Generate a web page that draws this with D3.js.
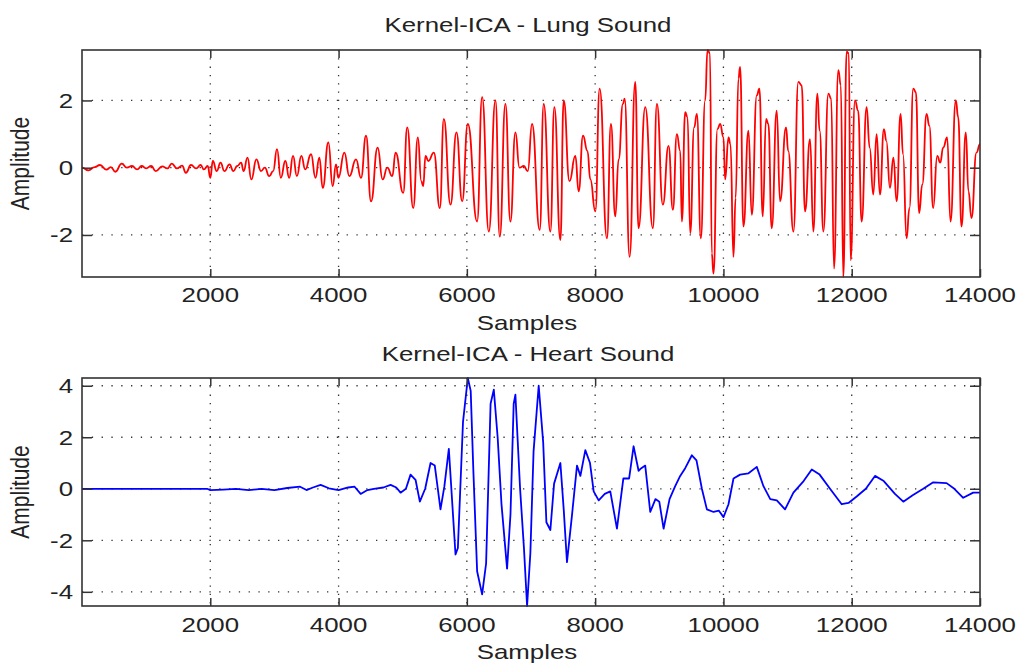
<!DOCTYPE html>
<html>
<head>
<meta charset="utf-8">
<script src="https://cdn.jsdelivr.net/npm/d3@7"></script>
<style>
    body { margin: 0; background: #fff; }
    text { font-family: "Liberation Sans", Arial, sans-serif; fill: #222; }
</style>
</head>
<body>
<svg id="chart" width="1021" height="666"></svg>
<script>
// x ticks shared by both panels
const xTicks = [2000, 4000, 6000, 8000, 10000, 12000, 14000];
const lungYTicks = [-2, 0, 2];
const heartYTicks = [-4, -2, 0, 2, 4];

// Lung sound (sample, amplitude)
const lungSamples = [0, 100, 200, 280, 380, 450, 520, 620, 700, 780, 860, 930, 1000, 1080, 1150, 1250, 1330, 1400, 1480, 1560,
    1620, 1700, 1780, 1850, 1900, 1960, 2000, 2040, 2100, 2160, 2220, 2300, 2360, 2420, 2480, 2520, 2580, 2640, 2720, 2790,
    2850, 2920, 2980, 3040, 3100, 3170, 3230, 3290, 3350, 3420, 3480, 3571, 3640, 3700, 3753, 3841, 3908, 3960, 3997, 4090,
    4168, 4272, 4350, 4428, 4506, 4609, 4687, 4760, 4837, 4889, 5008, 5070, 5164, 5236, 5290, 5319, 5356, 5400, 5485, 5579,
    5641, 5745, 5838, 5927, 6015, 6160, 6238, 6342, 6446, 6513, 6601, 6679, 6757, 6820, 6887, 6950, 7016, 7136, 7198, 7302,
    7364, 7458, 7510, 7600, 7691, 7743, 7811, 7880, 7925, 8003, 8070, 8184, 8246, 8314, 8366, 8433, 8460, 8537, 8625, 8677,
    8781, 8900, 8963, 9056, 9144, 9212, 9274, 9326, 9352, 9404, 9440, 9482, 9544, 9586, 9648, 9715, 9752, 9790, 9819, 9845,
    9907, 9949, 10000, 10027, 10079, 10110, 10156, 10190, 10234, 10260, 10312, 10390, 10442, 10520, 10561, 10613, 10665, 10700, 10753, 10831,
    10883, 10976, 11010, 11091, 11168, 11220, 11272, 11350, 11402, 11464, 11500, 11558, 11636, 11680, 11724, 11791, 11830, 11869, 11921, 11955,
    11983, 12051, 12100, 12155, 12232, 12280, 12336, 12388, 12440, 12502, 12540, 12596, 12650, 12700, 12762, 12800, 12855, 12900, 12959, 13000,
    13052, 13100, 13167, 13210, 13270, 13333, 13380, 13426, 13488, 13540, 13623, 13660, 13712, 13779, 13820, 13867, 13945, 14000];
const lungAmp = [0, -0.08, 0.02, 0.08, -0.06, 0.02, -0.12, 0.12, 0.0, 0.05, -0.05, 0.05, -0.02, 0.05, -0.1, 0.04, -0.02, 0.12, -0.02, 0.06,
    -0.15, 0.08, -0.02, 0.08, -0.05, 0.05, -0.3, 0.2, -0.1, 0.15, -0.1, 0.1, -0.1, 0.05, 0.15, -0.1, 0.3, -0.35, 0.25, -0.1,
    0.0, -0.25, -0.1, 0.55, -0.3, 0.2, -0.3, 0.35, -0.25, 0.35, -0.05, 0.4, -0.3, 0.3, -0.6, 0.75, -0.55, 0.1, -0.3, 0.45,
    -0.25, 0.25, -0.3, 0.95, -1.0, 0.6, -0.35, 0.0, -0.25, 0.45, -0.75, 1.2, -1.2, 0.9, -0.4, -0.55, 0.35, 0.2, 0.45, -1.2,
    1.45, -1.1, 1.05, -1.0, 1.3, -1.6, 2.1, -1.9, 2.0, -2.05, 1.9, -1.6, 1.05, 0.0, 0.05, -0.1, 1.3, -1.85, 1.9, -1.9,
    1.8, -2.15, 2.0, -0.4, 0.35, -0.7, 0.95, 0.5, -0.35, -1.3, 2.35, -2.1, 1.3, -1.45, 0.25, 1.9, 2.05, -2.65, 2.55, -1.8,
    1.8, -1.8, 1.9, -1.1, 0.65, -1.25, 1.0, 0.5, -1.6, 1.65, 1.5, -1.95, 1.2, 1.6, -2.1, 2.0, 3.5, 3.4, -2.55, -3.15,
    1.15, 1.3, 0.9, -0.35, 0.9, 0.7, -2.65, -0.9, 2.65, 3.0, -1.75, 1.1, -1.4, 2.15, 2.35, -1.45, 1.45, 1.3, -1.8, 1.7,
    -1.0, 1.2, 0.5, -1.9, 2.55, 2.45, -1.3, 0.85, -1.9, 2.2, 1.1, -1.9, 2.2, 2.05, -3.0, 2.9, 2.45, -3.25, 3.45, 3.4,
    -2.75, 2.0, 1.7, -1.6, 1.8, 0.6, -0.8, 1.0, -0.8, 1.15, 0.8, -0.6, 0.3, -1.0, 1.6, 0.4, -2.1, -1.2, 2.35, 2.25,
    -1.35, -0.5, 1.6, 1.25, -1.2, 0.35, 0.15, 0.6, 0.9, -1.6, 2.0, 1.5, -1.75, 1.05, -0.7, -1.5, 0.45, 0.7];

// Heart sound (sample, amplitude)
const heartSamples = [0, 1950, 2000, 2200, 2400, 2600, 2800, 3000, 3200, 3400, 3500, 3600, 3720, 3850, 4000, 4150, 4250, 4344, 4450, 4550,
    4700, 4811, 4900, 4966, 5050, 5122, 5200, 5267, 5350, 5434, 5500, 5589, 5650, 5719, 5823, 5860, 5940, 6015, 6060, 6100,
    6160, 6238, 6300, 6370, 6420, 6480, 6540, 6627, 6680, 6730, 6757, 6830, 6890, 6939, 6990, 7040, 7120, 7190, 7240, 7302,
    7360, 7458, 7510, 7561, 7640, 7717, 7770, 7847, 7920, 7977, 8055, 8150, 8236, 8340, 8440, 8530, 8599, 8677, 8720, 8781,
    8859, 8940, 9000, 9067, 9160, 9248, 9326, 9404, 9508, 9580, 9664, 9742, 9846, 9930, 10001, 10079, 10157, 10260, 10391, 10520,
    10624, 10730, 10832, 10961, 11091, 11250, 11377, 11500, 11662, 11844, 11950, 12077, 12220, 12363, 12500, 12674, 12804, 12950, 13115, 13271,
    13479, 13600, 13738, 13894, 14000];
const heartAmp = [0, 0, -0.05, -0.03, 0.0, -0.05, 0.0, -0.05, 0.03, 0.08, -0.05, 0.05, 0.15, 0.02, -0.05, 0.05, 0.08, -0.2, -0.05, 0.0,
    0.05, 0.15, 0.05, -0.15, 0.0, 0.55, 0.35, -0.5, 0.0, 1.0, 0.9, -0.8, 0.1, 1.55, -2.55, -2.3, 2.6, 4.3, 3.8, 0.8,
    -3.2, -4.1, -2.9, 3.3, 3.85, 2.0, -0.6, -3.1, -1.0, 3.3, 3.65, 0.0, -2.3, -4.55, -2.5, 1.45, 4.0, 1.8, -1.3, -1.6,
    0.2, 1.0, -0.8, -2.85, -1.0, 0.9, 0.5, 1.5, 1.0, -0.1, -0.45, -0.2, -0.1, -1.55, 0.4, 0.4, 1.65, 0.7, 0.8, 0.9,
    -0.9, -0.4, -0.5, -1.55, -0.4, 0.1, 0.5, 0.8, 1.3, 1.1, 0.0, -0.8, -0.9, -0.85, -1.1, -0.6, 0.4, 0.55, 0.6, 0.85,
    0.1, -0.4, -0.45, -0.8, -0.15, 0.3, 0.75, 0.55, 0.0, -0.6, -0.55, -0.3, 0.0, 0.5, 0.3, -0.2, -0.5, -0.25, 0.0, 0.25,
    0.22, 0.0, -0.35, -0.15, -0.15];

const svg = d3.select("#chart");
const plotLeft = 82, plotRight = 980;
const fontSize = 21, stretch = 1.23;   // the picture's text is a little wide

// Adds one stretched text element.
function addText(g, txt, x, y, anchor, rotate) {
    return g.append("text")
        .attr("transform", `translate(${x},${y}) scale(${stretch},1)` + (rotate ? ` rotate(${rotate})` : ""))
        .attr("text-anchor", anchor)
        .attr("font-size", fontSize)
        .text(txt);
}

function drawPanel(p) {
    const x = d3.scaleLinear().domain([0, 14000]).range([plotLeft, plotRight]);
    const y = d3.scaleLinear().domain(d3.extent(p.amp)).range([p.bottom, p.top]);
    const g = svg.append("g");

    // dotted grid
    g.selectAll(".vgrid").data(xTicks.slice(0, -1)).join("line")
        .attr("x1", d => x(d)).attr("x2", d => x(d))
        .attr("y1", p.top).attr("y2", p.bottom)
        .attr("stroke", "#333").attr("stroke-width", 1.3).attr("stroke-dasharray", "1.3,7");
    g.selectAll(".hgrid").data(p.yTicks).join("line")
        .attr("x1", plotLeft).attr("x2", plotRight)
        .attr("y1", d => y(d)).attr("y2", d => y(d))
        .attr("stroke", "#333").attr("stroke-width", 1.3).attr("stroke-dasharray", "1.3,8.5");

    const line = d3.line()
        .curve(p.curve)
        .x((d, i) => x(p.samples[i]))
        .y(d => y(d));
    g.append("path")
        .attr("d", line(p.amp))
        .attr("fill", "none")
        .attr("stroke", p.color)
        .attr("stroke-width", 1.8)
        .attr("stroke-linejoin", "round");

    // inward ticks on all four sides, like matlab
    const noLabel = () => "";
    const axes = [
        [d3.axisBottom(x).tickValues(xTicks).tickSize(-8), `translate(0,${p.bottom})`],
        [d3.axisTop(x).tickValues(xTicks).tickSize(-8), `translate(0,${p.top})`],
        [d3.axisLeft(y).tickValues(p.yTicks).tickSize(-10), `translate(${plotLeft},0)`],
        [d3.axisRight(y).tickValues(p.yTicks).tickSize(-10), `translate(${plotRight},0)`]
    ];
    axes.forEach(a => {
        g.append("g")
            .attr("transform", a[1])
            .attr("color", "#333")
            .call(a[0].tickFormat(noLabel))
            .call(s => s.select(".domain").remove())
            .selectAll("line").attr("stroke-width", 1.5);
    });

    g.append("rect")
        .attr("x", plotLeft).attr("y", p.top)
        .attr("width", plotRight - plotLeft).attr("height", p.bottom - p.top)
        .attr("fill", "none").attr("stroke", "#333").attr("stroke-width", 1.6);

    // tick labels
    xTicks.forEach(d => addText(g, String(d), x(d), p.tickY, "middle"));
    p.yTicks.forEach(d => addText(g, String(d), 73, y(d) + 7.5, "end"));

    addText(g, p.title, 528, p.titleY, "middle");
    addText(g, "Samples", 527, p.xlabelY, "middle");
    addText(g, "Amplitude", 29, (p.top + p.bottom) / 2, "middle", -90);
}

drawPanel({
    samples: lungSamples, amp: lungAmp, yTicks: lungYTicks, color: "#ff0000", curve: d3.curveBumpX,
    title: "Kernel-ICA - Lung Sound",
    top: 50, bottom: 277, titleY: 32, tickY: 302, xlabelY: 330
});
drawPanel({
    samples: heartSamples, amp: heartAmp, yTicks: heartYTicks, color: "#0000ff", curve: d3.curveLinear,
    title: "Kernel-ICA - Heart Sound",
    top: 378, bottom: 606, titleY: 361, tickY: 632, xlabelY: 659
});
</script>
</body>
</html>
